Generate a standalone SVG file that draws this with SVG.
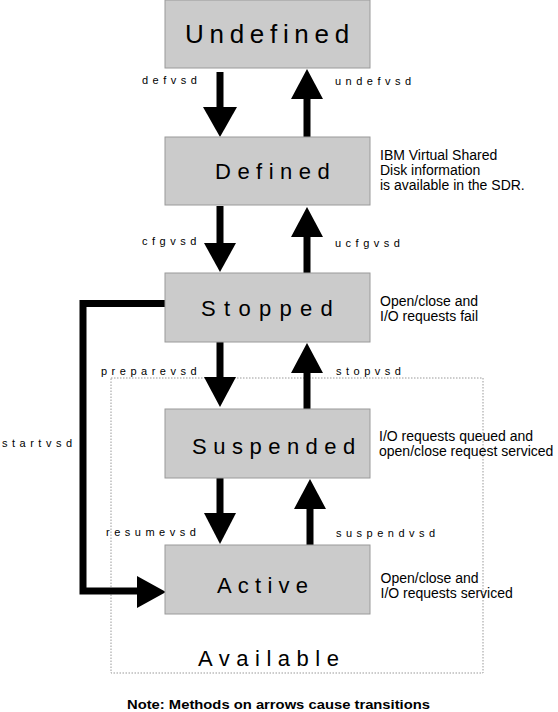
<svg xmlns="http://www.w3.org/2000/svg" width="558" height="712" viewBox="0 0 558 712">
<defs>
<style>
.box{fill:#cbcbcb;stroke:#9a9a9a;stroke-width:1}
.st{font-family:"Liberation Sans",Arial,sans-serif;font-size:22px;fill:#000}
.lbl{font-family:"Liberation Sans",Arial,sans-serif;font-size:11px;letter-spacing:4.5px;fill:#000}
.desc{font-family:"Liberation Sans",Arial,sans-serif;font-size:14px;fill:#000}
.shaft{stroke:#000;stroke-width:7;fill:none}
.head{fill:#000}
</style>
</defs>
<rect x="0" y="0" width="558" height="712" fill="#fff"/>
<rect x="111" y="378" width="372" height="295" fill="none" stroke="#999" stroke-width="1" stroke-dasharray="1.5,1.5"/>
<g id="connectors">
<line class="shaft" x1="220" y1="72" x2="220" y2="108"/>
<polygon class="head" points="203,107 237,107 220,137"/>
<line class="shaft" x1="307" y1="137" x2="307" y2="98"/>
<polygon class="head" points="291,99 323,99 307,69"/>
<line class="shaft" x1="220" y1="206" x2="220" y2="244"/>
<polygon class="head" points="204,243 236,243 220,272"/>
<line class="shaft" x1="307" y1="273" x2="307" y2="236"/>
<polygon class="head" points="291,237 323,237 307,207"/>
<line class="shaft" x1="220" y1="342" x2="220" y2="378"/>
<polygon class="head" points="204,377 236,377 220,407"/>
<line class="shaft" x1="307" y1="409" x2="307" y2="372"/>
<polygon class="head" points="291,373 323,373 307,343"/>
<line class="shaft" x1="220" y1="478" x2="220" y2="514"/>
<polygon class="head" points="204,513 236,513 220,544"/>
<line class="shaft" x1="310" y1="545" x2="310" y2="508"/>
<polygon class="head" points="294,509 326,509 310,479"/>
<polyline class="shaft" points="165,303.5 83,303.5 83,591 138,591"/>
<polygon class="head" points="137,576 137,608 166,592"/>
<text class="lbl" x="142" y="84">defvsd</text>
<text class="lbl" x="335" y="85">undefvsd</text>
<text class="lbl" x="142" y="245">cfgvsd</text>
<text class="lbl" x="335" y="246.5">ucfgvsd</text>
<text class="lbl" x="101" y="375">preparevsd</text>
<text class="lbl" x="336" y="375">stopvsd</text>
<text class="lbl" x="106" y="536">resumevsd</text>
<text class="lbl" x="336" y="536.5">suspendvsd</text>
<text class="lbl" x="2" y="446.5">startvsd</text>
</g>
<g id="undefined">
<rect class="box" x="165" y="0" width="205" height="68"/>
<text class="st" x="185" y="43" style="font-size:26px;letter-spacing:5.7px">Undefined</text>
</g>
<g id="defined">
<rect class="box" x="165" y="137" width="205" height="68"/>
<text class="st" x="215" y="179" style="letter-spacing:6.5px">Defined</text>
<text class="desc" x="380" y="160">IBM Virtual Shared</text>
<text class="desc" x="380" y="175">Disk information</text>
<text class="desc" x="380" y="190">is available in the SDR.</text>
</g>
<g id="stopped">
<rect class="box" x="165" y="273" width="205" height="69"/>
<text class="st" x="201" y="316" style="letter-spacing:8.3px">Stopped</text>
<text class="desc" x="380" y="306">Open/close and</text>
<text class="desc" x="380" y="321">I/O requests fail</text>
</g>
<g id="suspended">
<rect class="box" x="165" y="409" width="205" height="69"/>
<text class="st" x="192" y="454" style="letter-spacing:6.5px">Suspended</text>
<text class="desc" x="379" y="440.5">I/O requests queued and</text>
<text class="desc" x="379" y="456">open/close request serviced</text>
</g>
<g id="active">
<rect class="box" x="165" y="545" width="205" height="69"/>
<text class="st" x="217" y="593" style="letter-spacing:6.2px">Active</text>
<text class="desc" x="380.5" y="583">Open/close and</text>
<text class="desc" x="380.5" y="598">I/O requests serviced</text>
</g>
<g id="available">
<text class="st" x="198" y="666" style="letter-spacing:6.5px">Available</text>
</g>
<text x="127" y="709" textLength="303" lengthAdjust="spacingAndGlyphs" style="font-family:'Liberation Sans',Arial,sans-serif;font-size:13.5px;font-weight:bold">Note: Methods on arrows cause transitions</text>
</svg>
